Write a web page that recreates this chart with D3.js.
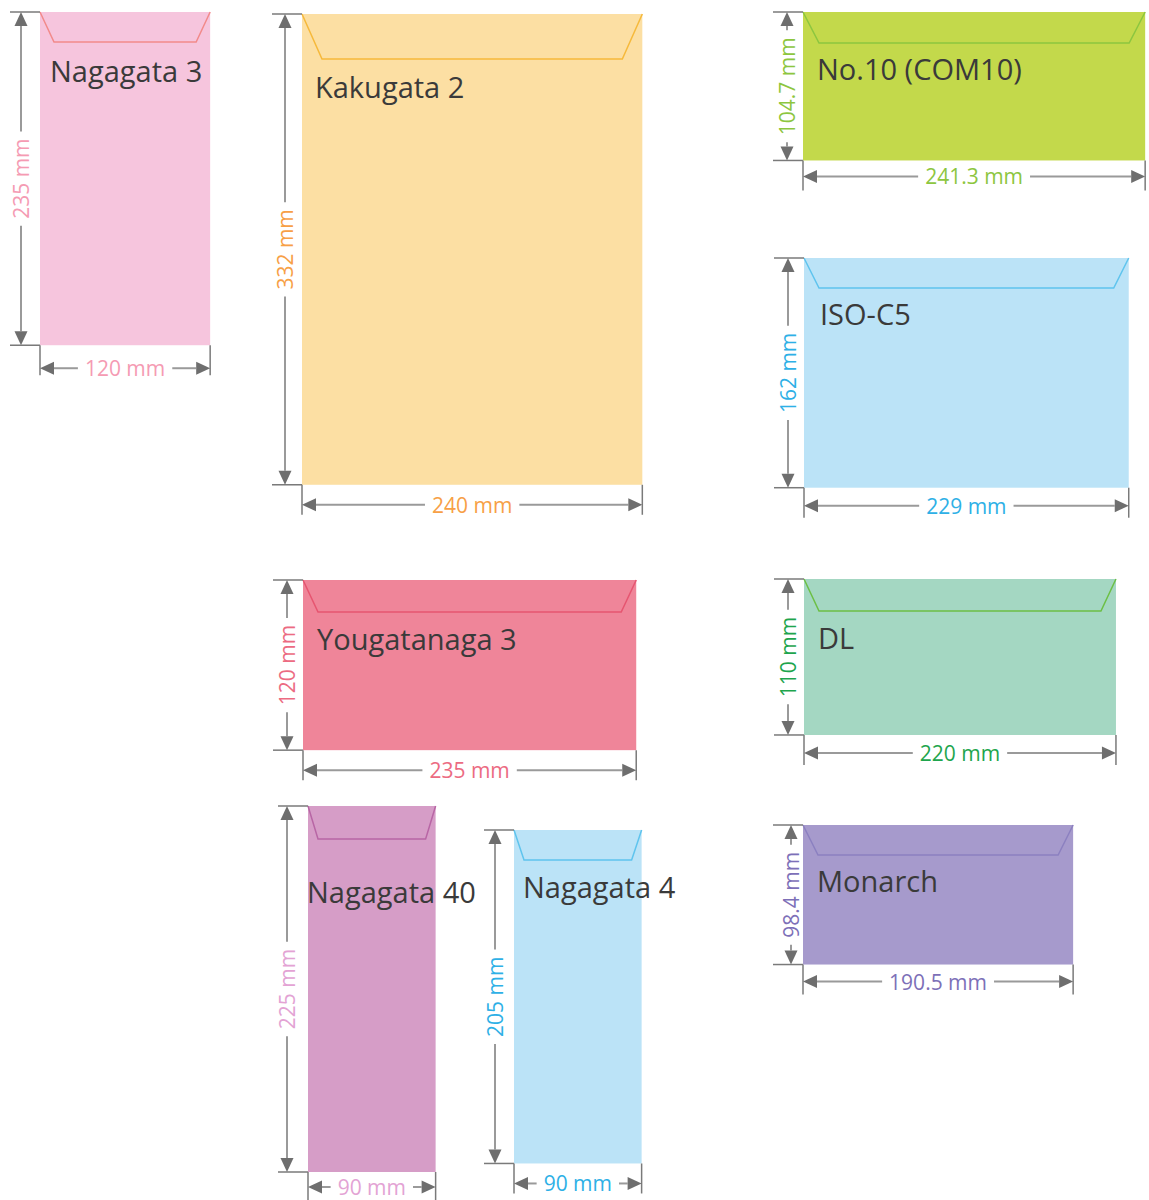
<!DOCTYPE html>
<html>
<head>
<meta charset="utf-8">
<script src="https://cdn.jsdelivr.net/npm/d3@7"></script>
<style>
  body { margin: 0; background: #fff; }
  svg { display: block; }
</style>
</head>
<body>
<script>
// envelope sizes in mm
var names = ["Nagagata 3", "Kakugata 2", "No.10 (COM10)", "ISO-C5", "Yougatanaga 3", "DL", "Nagagata 40", "Nagagata 4", "Monarch"];
var widthsMm = [120, 240, 241.3, 229, 235, 220, 90, 90, 190.5];
var heightsMm = [235, 332, 104.7, 162, 120, 110, 225, 205, 98.4];

// where each envelope sits on the page and how it is coloured
var layout = [
  {x: 40,  y: 12,  fill: "#f6c5dd", flap: "#f28a8a", dim: "#f59bb3", depth: 30, inset: 14, tx: 10, ty: 70, vdx: 19, hdy: 23, tall: false},
  {x: 302, y: 14,  fill: "#fcdfa3", flap: "#f6b93b", dim: "#f7a046", depth: 45, inset: 20, tx: 13, ty: 84, vdx: 17, hdy: 20, tall: false},
  {x: 803, y: 12,  fill: "#c3d94b", flap: "#8cc63f", dim: "#8dc63f", depth: 31, inset: 16, tx: 14, ty: 68, vdx: 16, hdy: 16, tall: false},
  {x: 804, y: 258, fill: "#bbe3f7", flap: "#5fc4ee", dim: "#2eb0e6", depth: 30, inset: 15, tx: 16, ty: 67, vdx: 16, hdy: 18, tall: false},
  {x: 303, y: 580, fill: "#ef8599", flap: "#e65570", dim: "#ec6b82", depth: 32, inset: 15, tx: 14, ty: 70, vdx: 16, hdy: 20, tall: false},
  {x: 804, y: 579, fill: "#a4d7c2", flap: "#6cbf45", dim: "#1ea54d", depth: 32, inset: 15, tx: 14, ty: 70, vdx: 16, hdy: 18, tall: false},
  {x: 308, y: 806, fill: "#d69dc7", flap: "#b866a5", dim: "#e3a3d4", depth: 33, inset: 10, tx: -1, ty: 97, vdx: 21, hdy: 15, tall: true},
  {x: 514, y: 830, fill: "#bbe3f7", flap: "#5fc4ee", dim: "#2eb0e6", depth: 30, inset: 10, tx: 9,  ty: 68, vdx: 19, hdy: 20, tall: true},
  {x: 803, y: 825, fill: "#a69acc", flap: "#8c80c0", dim: "#7d70b8", depth: 30, inset: 15, tx: 14, ty: 67, vdx: 12, hdy: 17, tall: false}
];

var width = 1149, height = 1200;

var svg = d3.select("body").append("svg")
    .attr("width", width)
    .attr("height", height);

// mm -> px
var mmScale = d3.scaleLinear().domain([0, 100]).range([0, 141.8]);
// the two narrow Nagagata envelopes are drawn stretched vertically in the source
var tallScale = d3.scaleLinear().domain([0, 225]).range([0, 366]);

var data = names.map(function(n, i) {
    return {name: n, w: widthsMm[i], h: heightsMm[i], lay: layout[i]};
});

var fontName = "'Open Sans', 'Noto Sans', sans-serif";
var arrowLen = 14, arrowHalf = 6.5, gap = 7;

var env = svg.selectAll(".envelope")
    .data(data)
    .enter()
    .append("g")
    .attr("class", "envelope")
    .attr("transform", function(d) { return "translate(" + d.lay.x + "," + d.lay.y + ")"; });

env.each(function(d) {
    var g = d3.select(this);
    var L = d.lay;
    var w = mmScale(d.w);
    var h = L.tall ? tallScale(d.h) : mmScale(d.h);

    g.append("rect")
        .attr("x", 0).attr("y", 0)
        .attr("width", w).attr("height", h)
        .attr("fill", L.fill);

    // flap
    g.append("path")
        .attr("d", "M0,0 L" + L.inset + "," + L.depth + " L" + (w - L.inset) + "," + L.depth + " L" + w + ",0")
        .attr("fill", "none")
        .attr("stroke", L.flap)
        .attr("stroke-width", 1.5);

    g.append("text")
        .attr("x", L.tx)
        .attr("y", L.ty)
        .attr("font-family", fontName)
        .attr("font-size", "29px")
        .attr("fill", "#3a3a3a")
        .text(d.name);

    // extension lines
    var ext = g.append("g")
        .attr("stroke", "#7a7a7a")
        .attr("stroke-width", 1.5);
    ext.append("line").attr("x1", -30).attr("x2", 0).attr("y1", 0).attr("y2", 0);
    ext.append("line").attr("x1", -30).attr("x2", 0).attr("y1", h).attr("y2", h);
    ext.append("line").attr("x1", 0).attr("x2", 0).attr("y1", h).attr("y2", h + 30);
    ext.append("line").attr("x1", w).attr("x2", w).attr("y1", h).attr("y2", h + 30);

    // height dimension
    dimension(g, -L.vdx, 0, h, d.h + " mm", L.dim, true);
    // width dimension
    dimension(g, h + L.hdy, 0, w, d.w + " mm", L.dim, false);
});

function dimension(g, pos, a, b, label, color, vertical) {
    var mid = (a + b) / 2;
    var t = g.append("text")
        .attr("font-family", fontName)
        .attr("font-size", "21px")
        .attr("fill", color)
        .attr("text-anchor", "middle")
        .attr("dominant-baseline", "central")
        .text(label);
    if (vertical) {
        t.attr("transform", "translate(" + pos + "," + mid + ") rotate(-90)");
    } else {
        t.attr("x", mid).attr("y", pos);
    }
    var half = t.node().getComputedTextLength() / 2;

    var segs = [[a + arrowLen, mid - half - gap], [mid + half + gap, b - arrowLen]];
    segs.forEach(function(s) {
        if (s[1] - s[0] < 1) return;
        g.append("line")
            .attr("x1", vertical ? pos : s[0]).attr("x2", vertical ? pos : s[1])
            .attr("y1", vertical ? s[0] : pos).attr("y2", vertical ? s[1] : pos)
            .attr("stroke", "#9a9a9a")
            .attr("stroke-width", 2);
    });

    // arrowheads
    var tips = [[a, 1], [b, -1]];
    tips.forEach(function(tp) {
        var p = tp[0], dir = tp[1], base = p + dir * arrowLen;
        var pts = vertical
            ? [[pos, p], [pos - arrowHalf, base], [pos + arrowHalf, base]]
            : [[p, pos], [base, pos - arrowHalf], [base, pos + arrowHalf]];
        g.append("path")
            .attr("d", "M" + pts.map(function(q) { return q.join(","); }).join("L") + "Z")
            .attr("fill", "#6e6e6e");
    });
}
</script>
</body>
</html>
